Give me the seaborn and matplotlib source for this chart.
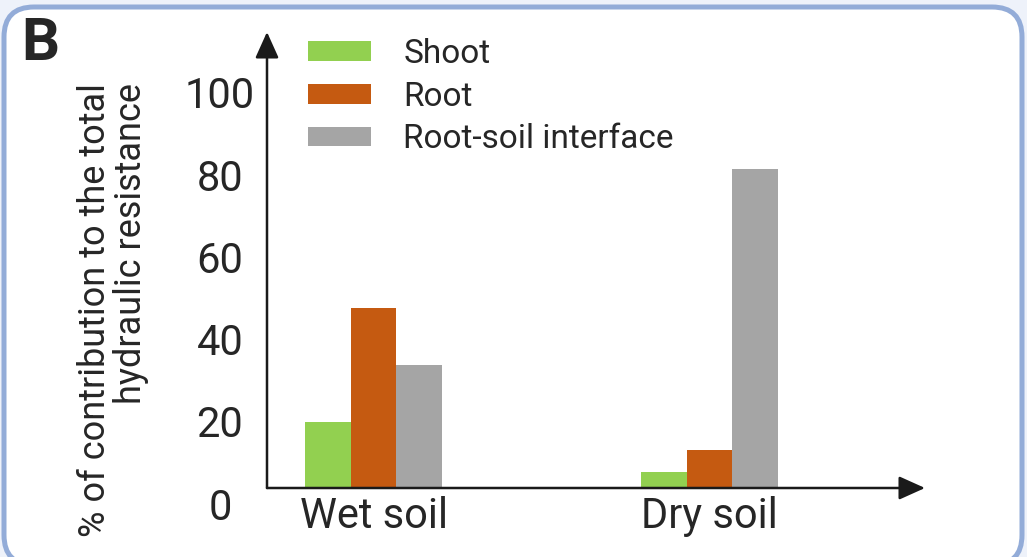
import matplotlib
matplotlib.use("Agg")
import matplotlib.pyplot as plt
import matplotlib.transforms as mtransforms
from matplotlib.patches import FancyBboxPatch
import seaborn as sns
import pandas as pd

# ---- data ----
conditions = ["Wet soil", "Dry soil"]
components = ["Shoot", "Root", "Root-soil interface"]
shoot = [20.9, 8.8]
root = [48.7, 14.1]
interface = [34.8, 82.5]
colors = ["#92d050", "#c55a11", "#a5a5a5"]
ytick_values = [0, 20, 40, 60, 80, 100]
ytick_labels = ["0", "20", "40", "60", "80", "100"]
ylabel_text = "% of contribution to the total\nhydraulic resistance"
panel_label = "B"

rows = []
for comp, vals in zip(components, [shoot, root, interface]):
    for cond, v in zip(conditions, vals):
        rows.append({"condition": cond, "component": comp, "value": v})
df = pd.DataFrame(rows)

sns.set_style("white")
plt.rcParams["font.family"] = ["Roboto", "DejaVu Sans"]

W, H = 1027, 557
fig = plt.figure(figsize=(W / 100, H / 100), dpi=100)
fig.patch.set_facecolor("#eef2fa")

# rounded border panel
box = FancyBboxPatch((4, -8), 1018, 557 - 7 + 8,
                     boxstyle="round,pad=0,rounding_size=30",
                     transform=None, facecolor="white",
                     edgecolor="#93acd8", linewidth=3.6, zorder=0)
fig.add_artist(box)

# axes placement in pixels
ax_left, ax_right = 267, 925
ax_bottom_px, ax_top_px = 488, 32
ax = fig.add_axes([ax_left / W, 1 - ax_bottom_px / H,
                   (ax_right - ax_left) / W, (ax_bottom_px - ax_top_px) / H])
ax.patch.set_alpha(0)

sns.barplot(data=df, x="condition", y="value", hue="component",
            order=conditions, hue_order=components, palette=colors,
            saturation=1, width=0.408, errorbar=None, linewidth=0, ax=ax)

ax.set_xlim(-0.317, 1.641)
ax.set_ylim(4.87, 115.8)
for s in ax.spines.values():
    s.set_visible(False)
ax.set_xlabel("")
ax.set_ylabel("")
ax.set_yticks([])
ax.set_xticks([0, 1])
ax.set_xticklabels(conditions, fontsize=30)
ax.tick_params(axis="x", length=0, pad=6)

# axis arrows
for xy in [(1, 0), (0, 1)]:
    ax.annotate("", xy=xy, xytext=(0, 0), xycoords="axes fraction",
                arrowprops=dict(arrowstyle="-|>,head_length=0.8,head_width=0.36",
                                mutation_scale=20, color="#1a1a1a", lw=1.8,
                                shrinkA=0, shrinkB=0),
                annotation_clip=False)

# y tick labels (centered column)
trans = mtransforms.blended_transform_factory(ax.transAxes, ax.transData)
xlab = -(ax_left - 220) / (ax_right - ax_left)
for v, lab in zip(ytick_values, ytick_labels):
    ax.text(xlab, v, lab, transform=trans, ha="center", va="center",
            fontsize=30, clip_on=False)

# legend
handles, labels = ax.get_legend_handles_labels()
ax.legend(handles, labels, loc="upper left",
          bbox_to_anchor=(308 / W, 1 - 38 / H), bbox_transform=fig.transFigure,
          frameon=False, fontsize=24, handlelength=1.9, handleheight=0.54,
          handletextpad=0.96, labelspacing=0.32, borderpad=0, borderaxespad=0)

# y label
fig.text(113 / W, 1 - 310 / H, ylabel_text, rotation=90, ha="center",
         va="center", ma="right", fontsize=26, linespacing=1.0)

# panel label
fig.text(40.5 / W, 1 - 43.5 / H, panel_label, ha="center", va="center",
         fontsize=43, fontweight="bold")

fig.savefig("out.png", dpi=100)
